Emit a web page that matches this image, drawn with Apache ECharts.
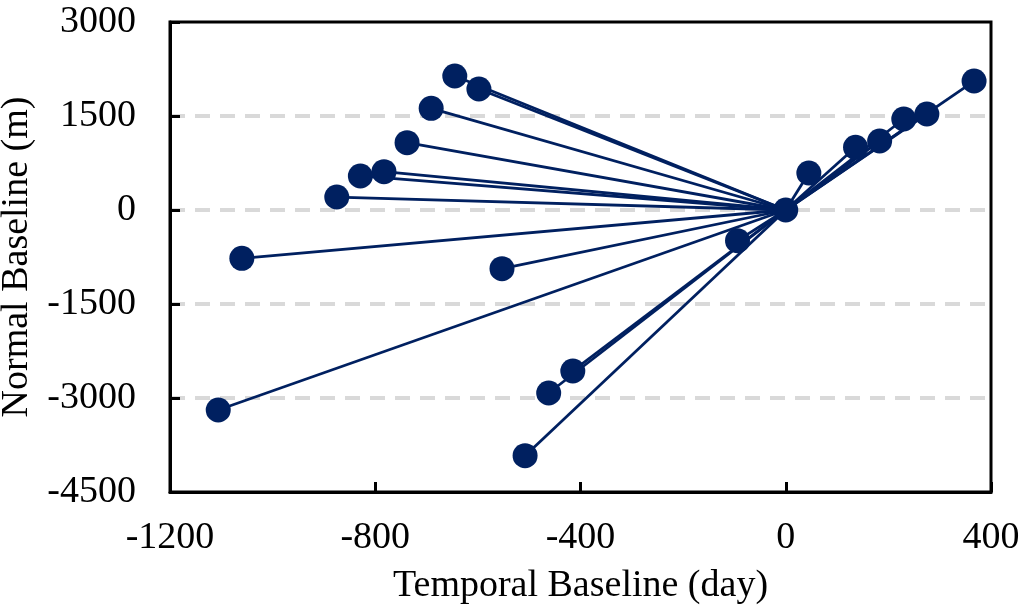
<!DOCTYPE html>
<html>
<head>
<meta charset="utf-8">
<script src="https://cdn.jsdelivr.net/npm/echarts@6/dist/echarts.min.js"></script>
<style>
html,body{margin:0;padding:0;background:#fff;}
#chart{width:1024px;height:608px;}
</style>
</head>
<body>
<div id="chart"></div>
<script>
// Temporal baseline (day) of each slave image relative to the master
var temporalBaseline = [-645, -598, -691, -738, -783, -829, -875, -1060, -553, -1106, -415, -462, -508, -94, 45, 136, 183, 230, 275, 367];
// Normal baseline (m) of each slave image
var normalBaseline = [2138, 1931, 1623, 1074, 611, 543, 207, -771, -936, -3191, -2569, -2920, -3920, -489, 590, 1000, 1101, 1452, 1532, 2058];
// Master image
var master = [0, 0];

var xTicks = {min: -1200, max: 400, interval: 400};
var yTicks = {min: -4500, max: 3000, interval: 1500};

var navy = '#002060';
var font = 'Liberation Serif';

var linkData = [];
var pointData = [master.slice()];
for (var i = 0; i < temporalBaseline.length; i++) {
  linkData.push({coords: [master.slice(), [temporalBaseline[i], normalBaseline[i]]]});
  pointData.push([temporalBaseline[i], normalBaseline[i]]);
}

function plain(v) { return String(v); }

var chart = echarts.init(document.getElementById('chart'), null, {renderer: 'canvas'});
chart.setOption({
  animation: false,
  backgroundColor: '#fff',
  grid: {left: 170, right: 33, top: 22, bottom: 116, containLabel: false, outerBoundsMode: 'none',
         show: true, borderColor: '#000', borderWidth: 3, backgroundColor: 'transparent'},
  xAxis: {
    type: 'value', min: xTicks.min, max: xTicks.max, interval: xTicks.interval,
    name: 'Temporal Baseline (day)', nameLocation: 'middle', nameGap: 75,
    nameTextStyle: {fontFamily: font, fontSize: 38, color: '#000'},
    axisLine: {show: true, onZero: false, lineStyle: {color: '#000', width: 3}},
    axisTick: {show: true, inside: true, length: 10, lineStyle: {color: '#000', width: 3}},
    axisLabel: {fontFamily: font, fontSize: 38, color: '#000', margin: 27, formatter: plain},
    splitLine: {show: false}
  },
  yAxis: {
    type: 'value', min: yTicks.min, max: yTicks.max, interval: yTicks.interval,
    name: 'Normal Baseline (m)', nameLocation: 'middle', nameGap: 124, nameRotate: 90,
    nameTextStyle: {fontFamily: font, fontSize: 38, color: '#000'},
    axisLine: {show: true, onZero: false, lineStyle: {color: '#000', width: 3}},
    axisTick: {show: true, inside: true, length: 10, lineStyle: {color: '#000', width: 3}},
    axisLabel: {fontFamily: font, fontSize: 38, color: '#000', margin: 34, formatter: plain},
    splitLine: {show: true, showMinLine: false, showMaxLine: false, lineStyle: {color: '#d9d9d9', width: 4, type: [15, 10]}}
  },
  series: [
    {
      type: 'lines', coordinateSystem: 'cartesian2d', z: 2,
      lineStyle: {color: navy, width: 2.8, opacity: 1},
      data: linkData
    },
    {
      type: 'scatter', z: 3, symbol: 'circle', symbolSize: 25,
      itemStyle: {color: navy, opacity: 1},
      data: pointData
    }
  ]
});
</script>
</body>
</html>
